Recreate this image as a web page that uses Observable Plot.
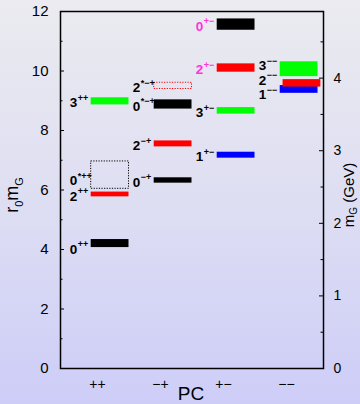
<!DOCTYPE html>
<html><head><meta charset="utf-8">
<script src="https://cdn.jsdelivr.net/npm/d3@7"></script>
<script src="https://cdn.jsdelivr.net/npm/@observablehq/plot@0.6"></script>
<style>
html,body{margin:0;padding:0;}
body{width:360px;height:404px;background:linear-gradient(to bottom,#ebebf0 0%,#dedef3 50%,#cdcdf8 100%);overflow:hidden;}
svg{display:block;}
</style></head><body><div id="chart"></div>
<script>
// Categories (PC) and tick labels
const pcKeys   = ["++", "-+", "+-", "--"];
const pcLabels = ["++", "−+", "+−", "−−"];
// Glueball states
const stateJ   = ["0","2","0","3","0","2","0","2","1","3","2","0","3","1","2"];
const statePC  = ["++","++","++","++","-+","-+","-+","-+","+-","+-","+-","+-","--","--","--"];
const stateExc = [false,false,true,false,false,false,true,true,false,false,false,false,false,false,false];
const mass     = [4.20, 5.85, 6.50, 8.98, 6.32, 7.55, 8.875, 9.50, 7.17, 8.66, 10.10, 11.56, 10.06, 9.38, 9.585];
const err      = [0.135,0.08, 0.46, 0.12, 0.09, 0.10, 0.155, 0.105,0.10, 0.11, 0.14,  0.19,  0.25,  0.13, 0.125];
// axis ticks
const yMajor = [0, 2, 4, 6, 8, 10, 12];
const yMinor = [1, 3, 5, 7, 9, 11];
const gevMajor = [0, 1, 2, 3, 4];
const gevMinor = [0.5, 1.5, 2.5, 3.5, 4.5];
const r0 = 2.44; // r0 in GeV^-1 (r0 mG per GeV)

// styles / layout
const colorOfJ = {"0": "black", "1": "blue", "2": "red", "3": "#00ff00"};
const outlined = new Set(["0*++", "2*-+"]);
const labelNudge = {"0++": -0.14, "3--": 0.17, "2--": 0.155, "1--": -0.12};
const barShift = {"2--": 0.045};
const X0 = 0.413, X1 = 4.587, PX = 1 / 63;

const rows = stateJ.map((J, i) => {
  const pc = statePC[i];
  const key = J + (stateExc[i] ? "*" : "") + pc;
  const col = pcKeys.indexOf(pc) + 1;
  const shift = barShift[J + pc] || 0;
  return {
    J, pc, key, m: mass[i], e: err[i],
    x1: col - 0.1 + shift, x2: col + 0.5 + shift,
    lx: col - 0.1,
    ly: mass[i] - 0.06 + (labelNudge[J + pc] || 0),
    sup: (stateExc[i] ? "*" : "") + pc.replace(/-/g, "−"),
    color: colorOfJ[J],
    lcolor: (pc === "+-" && (J === "0" || J === "2")) ? "#ff33dd" : "black"
  };
});
const filled = rows.filter(d => !outlined.has(d.key));
const boxes = rows.filter(d => outlined.has(d.key));

const plot = Plot.plot({
  width: 360, height: 404,
  marginLeft: 60, marginRight: 37, marginTop: 11, marginBottom: 36,
  style: {background: "transparent", fontFamily: "'Liberation Sans', Arial, sans-serif", color: "black"},
  x: {domain: [X0, X1]},
  y: {domain: [0, 12]},
  color: {type: "identity"},
  marks: [
    Plot.rect(filled, {x1: "x1", x2: "x2", y1: d => d.m - d.e, y2: d => d.m + d.e, fill: "color"}),
    Plot.rect(boxes, {x1: "x1", x2: "x2", y1: d => d.m - d.e, y2: d => d.m + d.e, fill: "none", stroke: "color", strokeWidth: 1, strokeDasharray: "1.2,1.4"}),
    Plot.text(rows, {x: "lx", y: "ly", text: "J", textAnchor: "end", dx: -14, fontSize: 13.5, fontWeight: "bold", fill: "lcolor"}),
    Plot.text(rows, {x: "lx", y: "ly", text: "sup", textAnchor: "start", dx: -13.5, dy: -5, fontSize: 9, fontWeight: "bold", fill: "lcolor"}),
    Plot.ruleY(yMajor, {x1: X0, x2: X0 + 4 * PX, stroke: "black", strokeWidth: 1}),
    Plot.ruleY(yMinor, {x1: X0, x2: X0 + 2.5 * PX, stroke: "black", strokeWidth: 1}),
    Plot.ruleY(gevMajor.map(g => g * r0), {x1: X1 - 4 * PX, x2: X1, stroke: "black", strokeWidth: 1}),
    Plot.ruleY(gevMinor.map(g => g * r0), {x1: X1 - 2.5 * PX, x2: X1, stroke: "black", strokeWidth: 1}),
    Plot.axisY({anchor: "left", ticks: yMajor, tickSize: 0, tickPadding: 12, fontSize: 15, label: null}),
    Plot.axisY({anchor: "right", ticks: gevMajor.map(g => g * r0), tickFormat: d => String(Math.round(d / r0)), tickSize: 0, tickPadding: 10, fontSize: 14, label: null}),
    Plot.axisX({ticks: [1, 2, 3, 4], tickFormat: d => pcLabels[d - 1], tickSize: 0, tickPadding: 11, fontSize: 14, label: null}),
    Plot.frame({stroke: "black", strokeWidth: 1.5})
  ]
});

const svg = d3.select(plot);
const ff = "'Liberation Sans', Arial, sans-serif";
const t1 = svg.append("text").attr("transform", "translate(18,195) rotate(-90)")
  .attr("text-anchor", "middle").attr("font-size", 18).attr("font-family", ff).attr("fill", "black");
t1.append("tspan").text("r");
t1.append("tspan").attr("font-size", 11).attr("dy", 5).text("0");
t1.append("tspan").attr("dy", -5).text("m");
t1.append("tspan").attr("font-size", 11).attr("dy", 5).text("G");

const t2 = svg.append("text").attr("transform", "translate(354,195) rotate(-90)")
  .attr("text-anchor", "middle").attr("font-size", 15).attr("font-family", ff).attr("fill", "black");
t2.append("tspan").text("m");
t2.append("tspan").attr("font-size", 10).attr("dy", 3).text("G");
t2.append("tspan").attr("dy", -3).text(" (GeV)");

svg.append("text").attr("x", 191).attr("y", 400).attr("text-anchor", "middle")
  .attr("font-size", 19).attr("font-family", ff).attr("fill", "black").text("PC");

document.getElementById("chart").appendChild(plot);
</script></body></html>
